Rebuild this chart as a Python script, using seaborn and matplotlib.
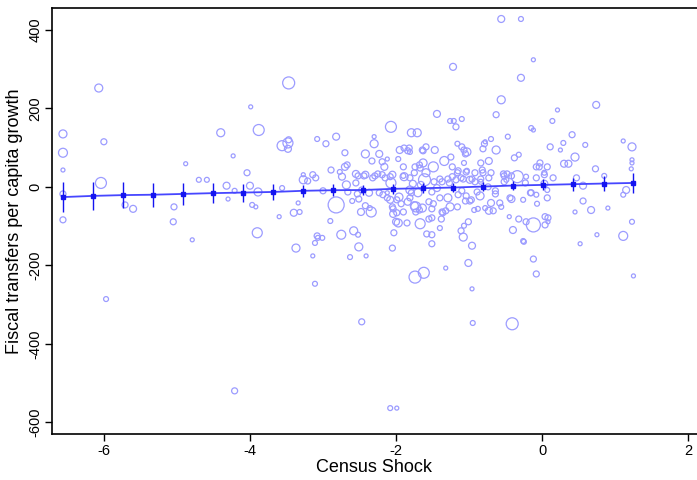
import numpy as np
import pandas as pd
import matplotlib
matplotlib.use("Agg")
import matplotlib.pyplot as plt
import seaborn as sns

# municipality-level observations (shock, transfers growth, population weight)
shock = [
    -6.56, -6.56, -6.56, -6.56, -6.56, -6.07, -6.00, -6.04, -5.71, -5.60,
    -4.88, -4.70, -4.59, -5.04, -5.05, -4.79, -4.40, -4.32, -4.30, -4.23,
    -4.21, -3.99, -3.88, -4.04, -4.00, -3.89, -3.97, -3.92, -3.90, -3.60,
    -3.56, -3.47, -3.56, -3.48, -3.47, -3.48, -3.40, -3.34, -3.32, -3.37,
    -3.27, -3.27, -3.21, -3.14, -3.08, -2.96, -2.82, -3.00, -2.89, -2.90,
    -2.82, -2.75, -2.70, -2.70, -2.67, -2.74, -2.68, -3.08, -3.01, -3.11,
    -3.07, -3.14, -3.11, -2.63, -5.97, -4.21, -2.77, -2.60, -2.66, -2.51,
    -2.37, -2.42, -2.36, -2.34, -2.48, -2.23, -2.18, -2.12, -2.05, -2.04,
    -2.00, -2.04, -1.99, -2.58, -2.52, -2.51, -2.41, -2.03, -2.05, -2.47,
    -2.08, -1.99, -1.74, -1.62, -1.32, -0.96, -0.95, -0.41, -1.01, -0.96,
    -1.08, -0.12, -0.08, -0.25, 0.52, 0.75, 1.11, 1.25, -1.58, -1.51,
    -0.56, -0.29, -0.12, -1.22, -0.29, -0.56, -0.63, 0.74, 0.21, 0.14,
    -1.44, -1.26, -1.21, -1.18, -1.10, -2.07, -1.79, -1.71, -2.30, -2.30,
    -2.42, -2.23, -0.15, -0.12, -0.47, 0.41, 0.29, 0.25, 0.11, 0.59,
    1.11, 1.23, 1.23, 1.23, 1.22, 0.45, 0.30, 0.36, 0.73, 0.85,
    1.15, 1.11, 0.56, 0.56, 0.67, 0.90, 0.45, 1.23, -0.03, -0.04,
    0.03, 0.15, 0.03, 0.07, -0.08, -0.07, 0.04, 0.08, -0.12, -0.40,
    -0.26, -0.22, -0.32, -0.45, -0.42, -0.26, -0.15, -0.23, -0.34, -0.22,
    -0.32, -0.38, -0.63, -0.70, -0.78, -0.79, -0.81, -0.73, -0.84, -0.82,
    -0.53, -0.48, -0.52, -0.74, -0.64, -0.70, -0.73, -0.67, -0.56, -0.78,
    -0.97, -1.04, -0.85, -0.93, -0.88, -1.01, -1.07, -1.11, -1.40, -1.51,
    -1.67, -1.55, -1.38, -1.32, -1.37, -1.51, -1.64, -1.68, -1.75, -1.85,
    -1.97, -2.08, -1.96, -1.93, -1.84, -1.81, -1.79, -2.12, -2.47, -2.53,
    -2.42, -2.55, -2.55, -2.32, -2.25, -2.19, -2.16, -2.19, -2.33, -2.12,
    -1.97, -2.05, -2.07, -1.90, -1.95, -1.89, -1.82, -1.81, -1.63, -1.59,
    -1.47, -1.34, -1.25, -1.16, -1.10, -1.03, -1.07, -1.23, -1.15, -1.03,
    -1.11, -0.99, -0.81, -0.92, -0.84, -0.89, -1.10, -1.27, -1.37, -1.48,
    -1.49, -1.59, -1.61, -1.66, -1.77, -1.81, -1.68, -1.63, -1.67, -1.74,
    -1.75, -1.44, -1.51, -1.40, -1.49, -1.29, -1.16, -1.05, -1.55, -1.70,
    -1.99, -1.90, -1.73, -2.52, -3.10, -2.44, -2.29, -2.15, -2.08, -1.07,
    -1.05, -1.64, -1.84, -1.90, -1.04, -1.16, -0.92, -0.70, -0.08, 0.07,
    -1.89, -1.40, -1.29, -1.23, -1.18, -1.08, -0.96, -0.84, -0.73, -0.52,
    -0.49, -0.42, -0.08, 0.03, -1.51, 0.04, 0.47, 0.07, 0.08, -1.26,
    -1.15, -0.99, -0.64, -0.44, -0.16, -0.58, -1.36, -1.81, -1.73,
]
transfers = [
    135, 87, 43, -18, -84, 252, 115, 10, -46, -56,
    59, 18, 18, -51, -89, -135, 138, 3, -31, 79,
    -10, 204, 145, 36, 3, -13, -46, -51, -117, -76,
    -3, 265, 105, 112, 120, 97, -66, -41, -64, -156,
    18, 31, 15, 31, 122, 110, 128, -10, 43, -87,
    -46, -122, 87, 51, 56, 26, 5, -125, -130, -143,
    -130, -176, -247, -179, -286, -520, 38, -36, -13, -31,
    -15, -48, -54, -64, -64, -15, -20, -28, -51, -69,
    -89, -56, -33, -112, -122, -153, -176, -117, -156, -344,
    -564, -564, -230, -219, -207, -260, -347, -349, -194, -150,
    -128, -184, -222, -140, -145, -122, -125, -227, -120, -145,
    428, 428, 324, 306, 278, 222, 184, 209, 196, 168,
    186, 168, 168, 153, 173, 153, 138, 138, 128, 110,
    84, 84, 150, 145, 128, 133, 112, 94, 102, 107,
    117, 102, 69, 61, 46, 76, 59, 59, 46, 28,
    -8, -20, 3, -36, -59, -54, -64, -89, 61, 51,
    36, 23, 8, -8, -20, -43, -76, -89, -97, -110,
    -138, -89, -82, -76, -31, -33, -15, 10, 26, 26,
    82, 74, 94, 122, 115, 110, 97, 66, 61, 43,
    33, 33, 13, 0, -10, -41, -61, -61, -51, -54,
    -33, -23, -23, -59, -56, -89, -99, -112, -105, -122,
    -94, -82, -82, -61, -64, -56, -54, -59, -48, -92,
    -92, -33, -26, -43, -38, -28, -15, -15, -8, -18,
    31, 33, 10, 23, 33, 31, 51, 64, 66, 71,
    71, 31, 10, 28, 94, 99, 99, 89, 92, 102,
    94, 66, 76, 110, 102, 89, 61, 51, 41, 41,
    23, 18, 36, 13, 13, -13, -10, 10, 13, 13,
    51, 36, 18, 5, 8, 23, 56, 61, 48, 51,
    36, -3, -13, -28, -43, -28, -51, -36, -38, -15,
    -66, -64, -64, 28, 23, 28, 28, 23, 26, 94,
    84, 94, 92, 51, 38, 36, 36, 36, 51, 51,
    26, 20, 20, 26, 18, 20, 20, 20, 23, 28,
    18, 28, 23, 31, -79, -97, 23, -28, -79, -51,
    -20, -36, -18, -28, -15, -41, -66, -8, -51,
]
weight = [
    16, 20, 4, 9, 9, 16, 9, 30, 9, 12,
    4, 6, 6, 9, 9, 4, 16, 12, 4, 4,
    6, 4, 30, 9, 12, 16, 6, 4, 25, 4,
    6, 36, 25, 25, 9, 12, 12, 4, 6, 16,
    16, 4, 9, 9, 6, 9, 12, 9, 9, 6,
    64, 20, 9, 12, 9, 12, 16, 9, 6, 6,
    6, 4, 6, 6, 6, 9, 6, 6, 9, 9,
    12, 9, 6, 25, 12, 9, 9, 9, 9, 12,
    12, 9, 9, 16, 6, 16, 4, 9, 9, 9,
    6, 4, 36, 30, 4, 4, 6, 36, 12, 12,
    16, 9, 9, 6, 4, 4, 20, 4, 9, 9,
    12, 6, 4, 12, 12, 16, 9, 12, 4, 6,
    12, 6, 6, 9, 6, 30, 16, 16, 4, 16,
    16, 12, 6, 4, 6, 9, 6, 4, 9, 6,
    4, 16, 4, 4, 4, 16, 12, 12, 9, 6,
    12, 6, 12, 9, 12, 4, 4, 6, 9, 9,
    6, 9, 12, 6, 6, 6, 9, 4, 49, 12,
    6, 9, 9, 4, 12, 6, 9, 9, 36, 6,
    6, 9, 16, 6, 4, 9, 9, 12, 9, 9,
    9, 9, 9, 9, 9, 12, 12, 9, 6, 6,
    9, 9, 16, 6, 6, 9, 6, 9, 6, 9,
    25, 9, 9, 9, 9, 9, 16, 9, 16, 9,
    16, 12, 16, 9, 12, 9, 9, 4, 9, 9,
    12, 12, 9, 9, 9, 9, 12, 9, 9, 4,
    6, 12, 25, 6, 12, 9, 9, 6, 9, 9,
    12, 20, 9, 6, 9, 16, 6, 9, 9, 6,
    9, 12, 9, 9, 6, 9, 9, 9, 9, 9,
    25, 16, 36, 12, 12, 9, 9, 16, 9, 9,
    9, 12, 9, 9, 9, 16, 9, 9, 9, 16,
    9, 9, 9, 9, 9, 9, 9, 9, 9, 9,
    9, 9, 9, 9, 9, 9, 9, 9, 9, 9,
    16, 9, 9, 9, 9, 9, 9, 9, 9, 9,
    6, 9, 9, 9, 9, 9, 9, 9, 9, 16,
    9, 9, 9, 9, 9, 9, 9, 16, 25,
]

# binned means with confidence intervals
bin_x = [-6.56, -6.15, -5.74, -5.33, -4.92, -4.51, -4.10, -3.69, -3.27, -2.86,
         -2.45, -2.04, -1.63, -1.22, -0.81, -0.40, 0.01, 0.42, 0.84, 1.25]
bin_y = [-26, -23, -21, -20, -18, -16, -14.5, -13, -10, -8.5,
         -8, -5, -3.4, -1.7, 0.8, 3.4, 5, 6.8, 8.5, 10]
bin_err = [38, 36, 33, 31, 28, 25, 23, 20, 16, 15,
           13, 12, 12, 12, 12, 11, 14, 17, 19, 25]

df = pd.DataFrame({"shock": shock, "transfers": transfers, "weight": weight})

sns.set_theme(style="white")
plt.rcParams["font.family"] = ["Liberation Sans", "DejaVu Sans"]

fig = plt.figure(figsize=(6.97, 4.80), dpi=100)
ax = fig.add_axes([52 / 697, 46 / 480, 645 / 697, 426 / 480])

sns.scatterplot(data=df, x="shock", y="transfers", size="weight",
                sizes=(8.3, 133), size_norm=(4, 64), marker="o",
                facecolors="none", edgecolor="#9c9cff", linewidth=0.9,
                legend=False, ax=ax)
for c in ax.collections:
    c.set_facecolor("none")
    c.set_edgecolor("#9c9cff")

sns.lineplot(x=bin_x, y=bin_y, color="#4646ff", linewidth=1.3, ax=ax)
ax.errorbar(bin_x, bin_y, yerr=bin_err, fmt="s", ms=2.5, color="#1414f0",
            elinewidth=1.0, capsize=0, zorder=4)

ax.set_xlim(-6.71, 2.12)
ax.set_ylim(-630, 456)
ax.set_xticks([-6, -4, -2, 0, 2])
ax.set_xticklabels(["-6", "-4", "-2", "0", "2"])
ax.set_yticks([400, 200, 0, -200, -400, -600])
ax.set_yticklabels(["400", "200", "0", "-200", "-400", "-600"],
                   rotation=90, va="center")
ax.tick_params(axis="both", direction="out", length=5, width=1,
               labelsize=10.5, color="black", labelcolor="black",
               bottom=True, left=True)
ax.tick_params(axis="x", pad=2)
ax.tick_params(axis="y", pad=2)
ax.set_xlabel("Census Shock", fontsize=13, color="black", labelpad=1)
ax.set_ylabel("Fiscal transfers per capita growth", fontsize=13,
              color="black", labelpad=4)

for s in ["left", "bottom", "top"]:
    ax.spines[s].set_color("black")
    ax.spines[s].set_linewidth(1.2)
ax.spines["right"].set_visible(False)
ax.grid(False)

fig.savefig("out.png", dpi=100)
